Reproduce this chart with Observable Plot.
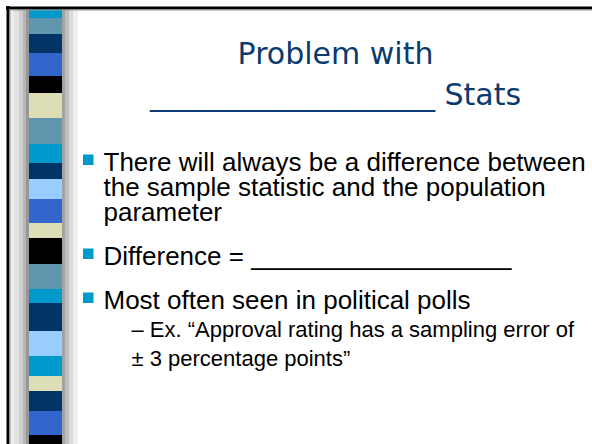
<!DOCTYPE html>
<html><head><meta charset="utf-8">
<script src="https://cdn.jsdelivr.net/npm/d3@7"></script>
<script src="https://cdn.jsdelivr.net/npm/@observablehq/plot@0.6"></script>
<style>html,body{margin:0;padding:0;background:#fff;overflow:hidden} svg{display:block}</style>
</head><body><div id="chart"></div>
<script>
// ---- content ----
const titleLines = ["Problem with", "___________________ Stats"];
const bodyText = [
  "There will always be a difference between",
  "the sample statistic and the population",
  "parameter",
  "Difference = __________________",
  "Most often seen in political polls",
  "– Ex. “Approval rating has a sampling error of",
  "± 3 percentage points”"
];
const bodyLevel = [1, 1, 1, 1, 1, 2, 2];
const bodyNewPara = [true, false, false, true, true, true, false];
// decorative stripe band (top to bottom)
const stripeColors = ["#0099cc","#5f96ae","#003366","#3366cc","#000000","#dddeb6","#5f96ae","#0099cc","#003366","#99ccff","#3366cc","#dddeb6","#000000","#5f96ae","#0099cc","#003366","#99ccff","#0099cc","#dddeb6","#003366","#3366cc","#000000"];
const stripeHeights = [9,16,19,23,17,25,26,19,16,20,24,15,26,25,14,28,25,20,15,20,24,14];

// ---- layout ----
const W = 592, H = 444;
let acc = 9;
const stripes = stripeColors.map((c, i) => { const y1 = acc; acc += stripeHeights[i]; return {color: c, y1, y2: acc}; });

// stepped grey shading either side of the band (style only), wide constant-fill rects
const shadeSteps = [
  [9, 14, "#eeeeee"], [14, 19, "#e2e2e2"], [19, 23, "#cfcfcf"], [23, 26, "#b6b6b6"], [26, 30, "#979797"],
  [61, 65, "#a2a2a2"], [65, 69, "#c0c0c0"], [69, 73, "#dadada"], [73, 78, "#efefef"]
];
const shadeMarks = shadeSteps.map(([a, b, c]) => Plot.rect([0], {x1: a, x2: b, y1: 9, y2: H, fill: c, inset: 0}));

const lines = [];
let yb = 170;
bodyText.forEach((t, i) => {
  if (i > 0) {
    const lh = bodyLevel[i] === 1 ? 25 : 29;
    yb += lh + (bodyNewPara[i] ? (bodyLevel[i] === 1 ? 19 : -1) : 0);
  }
  lines.push({text: t, level: bodyLevel[i], bullet: bodyNewPara[i] && bodyLevel[i] === 1, y: yb});
});
const titles = titleLines.map((t, i) => ({text: t, y: 63 + i * 41}));

const chart = Plot.plot({
  width: W, height: H,
  margin: 0,
  x: {type: "identity", axis: null},
  y: {type: "identity", axis: null},
  color: {type: "identity"},
  style: {background: "#fff"},
  marks: [
    ...shadeMarks,
    Plot.rect(stripes, {x1: 29, x2: 62, y1: "y1", y2: "y2", fill: "color"}),
    // slide frame
    Plot.ruleY([7.5], {x1: 6, x2: W, stroke: "#000", strokeWidth: 3}),
    Plot.ruleY([9.5], {x1: 9, x2: W, stroke: "#999", strokeWidth: 1}),
    Plot.ruleX([7.5], {y1: 6, y2: H, stroke: "#000", strokeWidth: 3}),
    Plot.ruleX([9.5], {y1: 9, y2: H, stroke: "#999", strokeWidth: 1}),
    // title
    Plot.text(titles, {x: 335, y: "y", text: "text", textAnchor: "middle", lineAnchor: "bottom",
      fontFamily: "DejaVu Sans", fontSize: 30, fill: "#0b3a6e"}),
    // bullets
    Plot.rect(lines.filter(d => d.bullet), {x1: 83, x2: 93.5, y1: d => d.y - 15.5, y2: d => d.y - 5, fill: "#0099cc"}),
    Plot.text(lines, {x: d => d.level === 1 ? 103 : 131, y: "y", text: "text", textAnchor: "start", lineAnchor: "bottom",
      fontFamily: "Liberation Sans, Arial, sans-serif", fontSize: d => d.level === 1 ? 26 : 22, fill: "#000"})
  ]
});
document.getElementById("chart").appendChild(chart);
</script>
</body></html>
